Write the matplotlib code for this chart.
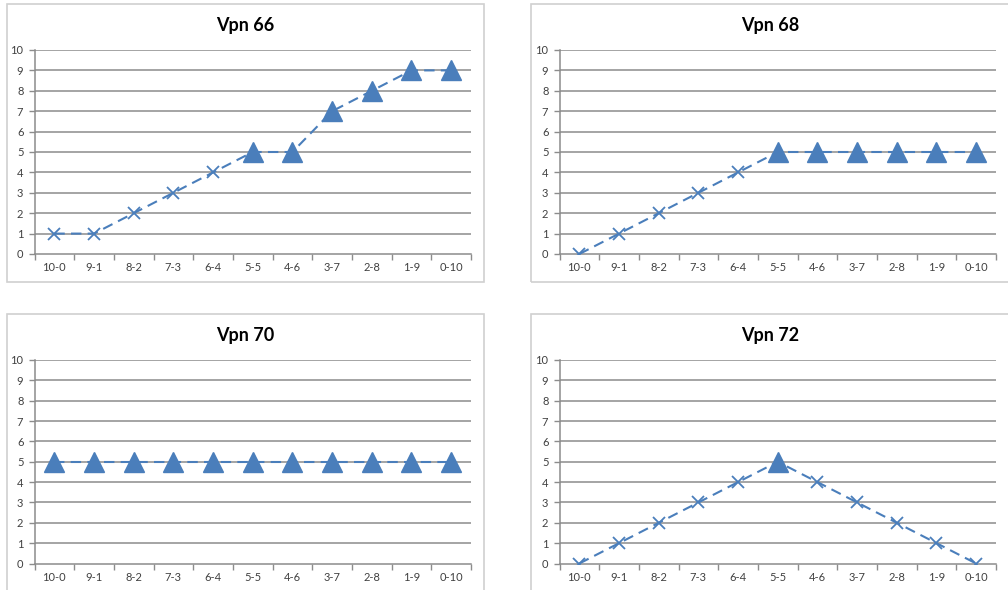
import matplotlib
matplotlib.use("Agg")
import matplotlib.pyplot as plt
from matplotlib.patches import Rectangle
import numpy as np

categories = ["10-0", "9-1", "8-2", "7-3", "6-4", "5-5", "4-6", "3-7", "2-8", "1-9", "0-10"]
titles = ["Vpn 66", "Vpn 68", "Vpn 70", "Vpn 72"]
vpn66 = [1, 1, 2, 3, 4, 5, 5, 7, 8, 9, 9]
vpn68 = [0, 1, 2, 3, 4, 5, 5, 5, 5, 5, 5]
vpn70 = [5, 5, 5, 5, 5, 5, 5, 5, 5, 5, 5]
vpn72 = [0, 1, 2, 3, 4, 5, 4, 3, 2, 1, 0]
series = [vpn66, vpn68, vpn70, vpn72]

W, H = 1008, 590
fig = plt.figure(figsize=(W / 100, H / 100), dpi=100)
plt.rcParams['font.family'] = ['Lato', 'DejaVu Sans']

blue = "#4A7EBB"
grid_c = "#8C8C8C"
border_c = "#D0D0D0"

# (axes left, right, top, bottom), (border left, right, top, bottom), title center (x, y)
layouts = [
    ((34.5, 471, 50, 254), (6.5, 483.5, 4, 282), (245, 25)),
    ((559.5, 996, 50, 254), (531, 1012, 4, 282), (770, 25)),
    ((34.5, 471, 360, 563.5), (6.5, 483.5, 313.5, 595), (245, 335)),
    ((559.5, 996, 360, 563.5), (531, 1012, 313.5, 595), (770, 335)),
]

def fx(x):
    return x / W

def fy(y):
    return 1 - y / H

for vals, title, (ax_box, bd, tpos) in zip(series, titles, layouts):
    l, r, t, b = bd
    fig.patches.append(Rectangle((fx(l), fy(b)), fx(r) - fx(l), fy(t) - fy(b),
                                 transform=fig.transFigure, fill=False,
                                 edgecolor=border_c, linewidth=1.2))
    al, ar, at, ab = ax_box
    ax = fig.add_axes([fx(al), fy(ab), fx(ar) - fx(al), fy(at) - fy(ab)])
    x = np.arange(len(categories))
    v = np.array(vals)
    ax.plot(x, v, color=blue, lw=1.5, ls=(0, (5, 3)), zorder=3)
    tri = v >= 5
    ax.plot(x[tri], v[tri], ls="none", marker="^", ms=14.5, color=blue,
            markeredgecolor=blue, zorder=4)
    ax.plot(x[~tri], v[~tri], ls="none", marker="x", ms=8.5, mew=1.3,
            color=blue, zorder=4)
    ax.set_xlim(-0.5, len(categories) - 0.5)
    ax.set_ylim(0, 10)
    ax.set_yticks(range(0, 11))
    ax.set_xticks(x)
    ax.set_xticklabels(categories)
    ax.set_xticks(np.arange(-0.5, len(categories)), minor=True)
    ax.tick_params(axis="x", which="major", length=0, labelsize=8,
                   pad=6, labelcolor="#404040")
    ax.tick_params(axis="x", which="minor", length=4, color=grid_c, width=1)
    ax.tick_params(axis="y", length=4, color=grid_c, width=1, labelsize=8,
                   pad=4, labelcolor="#404040")
    for yv in range(1, 11):
        ax.axhline(yv, color=grid_c, lw=1.1, zorder=1)
    for s in ["top", "right"]:
        ax.spines[s].set_visible(False)
    for s in ["left", "bottom"]:
        ax.spines[s].set_color(grid_c)
        ax.spines[s].set_linewidth(1.1)
    ax.set_facecolor("white")
    fig.text(fx(tpos[0]), fy(tpos[1]), title, ha="center", va="center",
             fontsize=13, fontweight="bold", color="black")

fig.savefig("out.png", dpi=100, facecolor="white")
